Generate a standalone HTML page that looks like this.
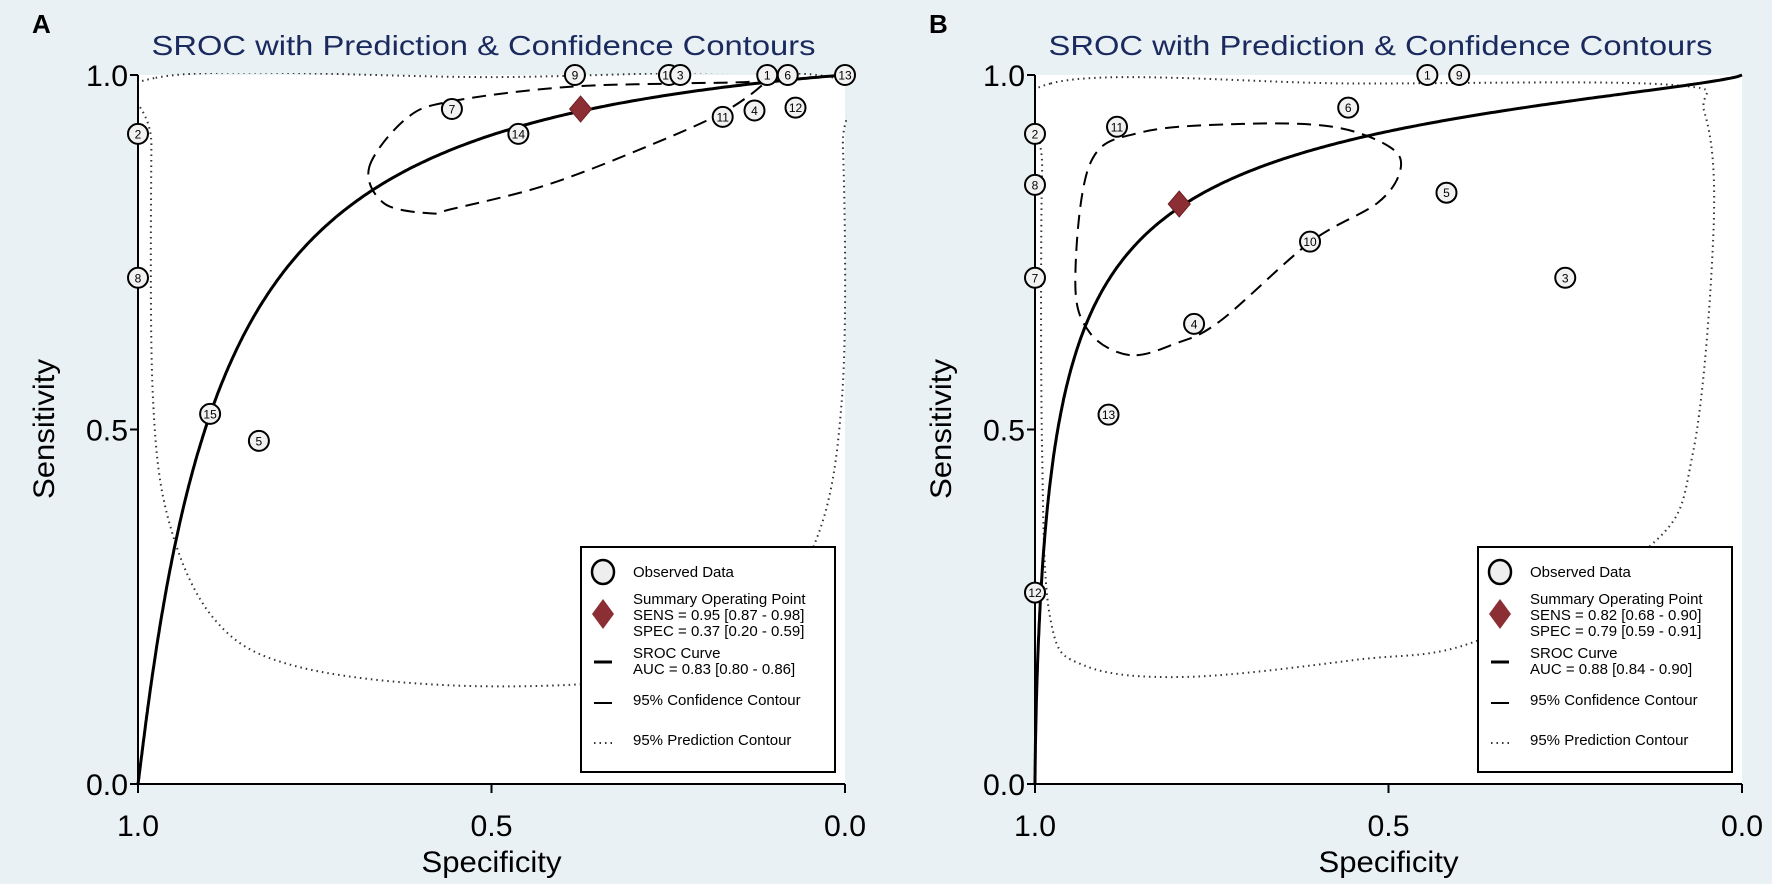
<!DOCTYPE html>
<html><head><meta charset="utf-8"><style>
html,body{margin:0;padding:0;background:#e9f1f4;}
svg{display:block;font-family:"Liberation Sans",Arial,sans-serif;}
</style></head><body>
<svg id="chart" width="1772" height="884" viewBox="0 0 1772 884" xmlns="http://www.w3.org/2000/svg">
<rect x="0" y="0" width="1772" height="884" fill="#e9f1f4"/>
</svg>
<script>
// ---- Panel A data ----
const labelsA = ["2","8","15","5","7","14","9","10","3","1","6","13","11","4","12"];
const specA   = [1.0,1.0,0.898,0.829,0.556,0.462,0.382,0.249,0.233,0.11,0.081,0.0,0.173,0.128,0.07];
const sensA   = [0.917,0.714,0.522,0.484,0.952,0.917,1.0,1.0,1.0,1.0,1.0,1.0,0.941,0.95,0.954];
const summaryA = [0.374, 0.952]; // spec, sens
const srocA = [2.38, 1.055];     // alpha, beta (logit model)
const confSpecA = [0.673,0.620,0.556,0.396,0.236,0.141,0.109,0.173,0.300,0.428,0.556,0.588,0.652];
const confSensA = [0.870,0.939,0.963,0.983,0.988,0.990,0.994,0.947,0.891,0.843,0.811,0.805,0.819];
const predSpecA = [0.975,0.5,0.02,0.003,0.004,0.045,0.157,0.30,0.556,0.78,0.89,0.955,0.979,0.981];
const predSensA = [0.996,0.997,0.997,0.9,0.549,0.334,0.19,0.147,0.139,0.167,0.23,0.366,0.549,0.9];
const legendA = ["Observed Data","Summary Operating Point","SENS = 0.95 [0.87 - 0.98]","SPEC = 0.37 [0.20 - 0.59]","SROC Curve","AUC = 0.83 [0.80 - 0.86]","95% Confidence Contour","95% Prediction Contour"];
// ---- Panel B data ----
const labelsB = ["2","8","7","12","11","13","6","1","9","5","10","3","4"];
const specB   = [1.0,1.0,1.0,1.0,0.884,0.896,0.557,0.445,0.40,0.418,0.611,0.25,0.775];
const sensB   = [0.917,0.845,0.714,0.27,0.927,0.521,0.954,1.0,1.0,0.834,0.765,0.714,0.649];
const summaryB = [0.796, 0.818];
const srocB = [2.45, 0.72];
const confSpecB = [0.866,0.922,0.943,0.922,0.850,0.707,0.579,0.499,0.483,0.515,0.611,0.738,0.802];
const confSensB = [0.605,0.636,0.708,0.875,0.919,0.931,0.927,0.899,0.867,0.820,0.764,0.653,0.621];
const predSpecB = [0.978,0.547,0.10,0.053,0.04,0.069,0.132,0.372,0.547,0.786,0.93,0.978,0.99,0.99];
const predSensB = [0.988,0.988,0.986,0.947,0.788,0.469,0.334,0.203,0.175,0.151,0.167,0.231,0.469,0.867];
const legendB = ["Observed Data","Summary Operating Point","SENS = 0.82 [0.68 - 0.90]","SPEC = 0.79 [0.59 - 0.91]","SROC Curve","AUC = 0.88 [0.84 - 0.90]","95% Confidence Contour","95% Prediction Contour"];
const ticks = [0, 0.5, 1.0];
const tickLabels = ["0.0","0.5","1.0"];

const NS = "http://www.w3.org/2000/svg";
const svg = document.getElementById("chart");
function mk(tag, attrs, parent, text){
  const e = document.createElementNS(NS, tag);
  for (const k in attrs) e.setAttribute(k, attrs[k]);
  if (text !== undefined) e.textContent = text;
  (parent || svg).appendChild(e);
  return e;
}
function smoothPath(pts){
  const n = pts.length; let d = "M" + pts[0][0].toFixed(1) + "," + pts[0][1].toFixed(1);
  for (let i = 0; i < n; i++){
    const p0 = pts[(i-1+n)%n], p1 = pts[i], p2 = pts[(i+1)%n], p3 = pts[(i+2)%n];
    const c1 = [p1[0]+(p2[0]-p0[0])/6, p1[1]+(p2[1]-p0[1])/6];
    const c2 = [p2[0]-(p3[0]-p1[0])/6, p2[1]-(p3[1]-p1[1])/6];
    d += "C"+c1[0].toFixed(1)+","+c1[1].toFixed(1)+" "+c2[0].toFixed(1)+","+c2[1].toFixed(1)+" "+p2[0].toFixed(1)+","+p2[1].toFixed(1);
  }
  return d + "Z";
}

function panel(id, X0, letter, labels, spec, sens, summary, sroc, cS, cN, pS, pN, legend){
  const X1 = X0 + 707, YT = 75, YB = 784;
  const sx = s => X0 + (1 - s) * (X1 - X0);
  const sy = v => YB - v * (YB - YT);
  const g = mk("g", {});
  
  
  const plot = mk("rect", {x:X0, y:YT, width:X1-X0, height:YB-YT, fill:"#ffffff"}, g);
  
  
  const cp0 = mk("clipPath", {id:"clip"+id}, g);
  mk("rect", {x:X0, y:YT-2, width:X1-X0+2, height:YB-YT+2}, cp0);
  const pl = mk("text", {x:X0-106, y:33, "font-size":26, "font-weight":"bold", fill:"#000"}, g, letter);
  
  
  const t = mk("text", {x:(X0+X1)/2-8, y:55, "font-size":28, fill:"#1a2a5e", "text-anchor":"middle", textLength:664, lengthAdjust:"spacingAndGlyphs"}, g, "SROC with Prediction & Confidence Contours");
  
  
  const ya = mk("line", {x1:X0, y1:YT, x2:X0, y2:YB, stroke:"#000", "stroke-width":2}, g);
  
  
  const xa = mk("line", {x1:X0, y1:YB, x2:X1, y2:YB, stroke:"#000", "stroke-width":2}, g);
  
  
  ticks.forEach((v, i) => {
    mk("line", {x1:X0-8, y1:sy(v), x2:X0, y2:sy(v), stroke:"#000", "stroke-width":2}, g);
    const yl = mk("text", {x:X0-10, y:sy(v)+11, "font-size":30, "text-anchor":"end", textLength:42, lengthAdjust:"spacingAndGlyphs"}, g, tickLabels[i]);
    
    
    mk("line", {x1:sx(v), y1:YB, x2:sx(v), y2:YB+9, stroke:"#000", "stroke-width":2}, g);
    const xl = mk("text", {x:sx(v), y:836, "font-size":30, "text-anchor":"middle", textLength:42, lengthAdjust:"spacingAndGlyphs"}, g, tickLabels[i]);
    
    
  });
  const xt = mk("text", {x:(X0+X1)/2, y:872, "font-size":30, "text-anchor":"middle", textLength:140, lengthAdjust:"spacingAndGlyphs"}, g, "Specificity");
  
  
  const yt = mk("text", {x:0, y:0, "font-size":30, "text-anchor":"middle", transform:"translate("+(X0-84)+",429) rotate(-90)", textLength:140, lengthAdjust:"spacingAndGlyphs"}, g, "Sensitivity");
  
  
  const pp = pS.map((s,i)=>[sx(s), sy(pN[i])]);
  const pred = mk("path", {d:smoothPath(pp), fill:"none", stroke:"#333", "stroke-width":2, "stroke-dasharray":"1.5 4", "clip-path":"url(#clip"+id+")"}, g);
  
  
  const cp = cS.map((s,i)=>[sx(s), sy(cN[i])]);
  const conf = mk("path", {d:smoothPath(cp), fill:"none", stroke:"#000", "stroke-width":2, "stroke-dasharray":"14 8"}, g);
  
  
  let d = "M" + sx(1) + "," + sy(0);
  for (let k = 1; k < 400; k++){
    const f = Math.pow(k/400, 2.2);
    const lf = Math.log(f/(1-f));
    const z = sroc[0] + sroc[1]*lf;
    const se = 1/(1+Math.exp(-z));
    d += "L" + sx(1-f).toFixed(1) + "," + sy(se).toFixed(1);
  }
  d += "L" + sx(0) + "," + sy(1);
  const curve = mk("path", {d:d, fill:"none", stroke:"#000", "stroke-width":3}, g);
  
  
  labels.forEach((lb, i) => {
    const pg = mk("g", {}, g);
    
    
    mk("ellipse", {cx:sx(spec[i]), cy:sy(sens[i]), rx:10, ry:10, fill:"#f2f2f2", stroke:"#000", "stroke-width":2}, pg);
    mk("text", {x:sx(spec[i]), y:sy(sens[i])+4.5, "font-size":12, "text-anchor":"middle"}, pg, lb);
  });
  const cx = sx(summary[0]), cy = sy(summary[1]);
  const dm = mk("path", {d:"M"+cx+","+(cy-13)+"L"+(cx+11)+","+cy+"L"+cx+","+(cy+13)+"L"+(cx-11)+","+cy+"Z", fill:"#8b2f35", stroke:"#6e1f25"}, g);
  
  
  const LX = X0 + 443, LY = 547;
  const lg = mk("g", {}, g);
  
  
  mk("rect", {x:LX, y:LY, width:254, height:225, fill:"#fff", stroke:"#000", "stroke-width":2}, lg);
  const ys = [577,604,620,636,658,674,705,745];
  legend.forEach((txt, i) => {
    const tt = mk("text", {x:LX+52, y:ys[i], "font-size":15}, lg, txt);
    
    
  });
  const sxl = LX + 22;
  mk("ellipse", {cx:sxl, cy:572, rx:11, ry:12, fill:"#eee", stroke:"#000", "stroke-width":2.5}, lg);
  mk("path", {d:"M"+sxl+",599L"+(sxl+11)+",614L"+sxl+",629L"+(sxl-11)+",614Z", fill:"#8b2f35"}, lg);
  mk("line", {x1:sxl-9, y1:662, x2:sxl+9, y2:662, stroke:"#000", "stroke-width":3}, lg);
  mk("line", {x1:sxl-9, y1:703, x2:sxl+9, y2:703, stroke:"#000", "stroke-width":2}, lg);
  mk("line", {x1:sxl-9, y1:743, x2:sxl+9, y2:743, stroke:"#333", "stroke-width":2, "stroke-dasharray":"1.5 4"}, lg);
}
panel("a", 138, "A", labelsA, specA, sensA, summaryA, srocA, confSpecA, confSensA, predSpecA, predSensA, legendA);
panel("b", 1035, "B", labelsB, specB, sensB, summaryB, srocB, confSpecB, confSensB, predSpecB, predSensB, legendB);
</script>
</body></html>
